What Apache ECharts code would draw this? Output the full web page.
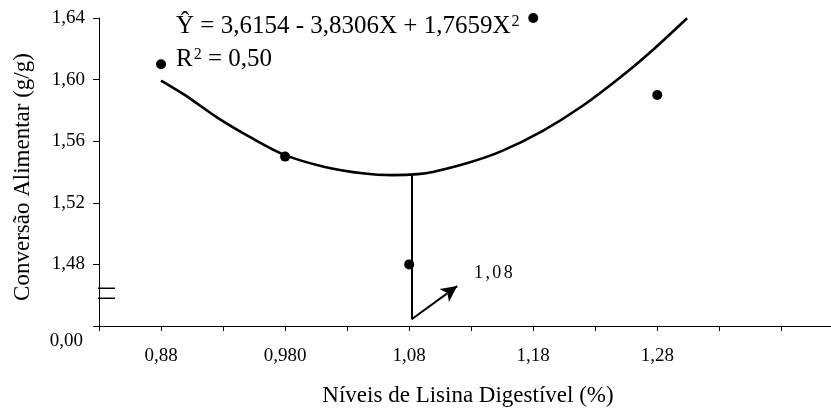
<!DOCTYPE html>
<html>
<head>
<meta charset="utf-8">
<script src="https://cdn.jsdelivr.net/npm/echarts@6/dist/echarts.min.js"></script>
<style>
html,body{margin:0;padding:0;background:#fff;}
#chart{width:831px;height:411px;}
</style>
</head>
<body>
<div id="chart"></div>
<script>
// Observed data points
const obsX = [0.88, 0.98, 1.08, 1.18, 1.28];
const obsY = [1.61, 1.55, 1.48, 1.64, 1.59];

// Fitted curve
const fitX = [0.880, 0.899, 0.926, 0.953, 0.979, 1.012, 1.044, 1.066, 1.087, 1.100, 1.127, 1.154, 1.187, 1.219, 1.251, 1.278, 1.304];
const fitY = [1.5994, 1.5901, 1.5750, 1.5621, 1.5513, 1.5433, 1.5390, 1.5380, 1.5386, 1.5402, 1.5458, 1.5534, 1.5664, 1.5825, 1.6020, 1.6204, 1.6398];

// Axis ticks and labels
const xTickValues = [0.83, 0.88, 0.93, 0.98, 1.03, 1.08, 1.13, 1.18, 1.23, 1.28, 1.33, 1.38];
const xLabelValues = [0.88, 0.98, 1.08, 1.18, 1.28];
const xLabels = ['0,88', '0,980', '1,08', '1,18', '1,28'];
const yTickValues = [1.44, 1.48, 1.52, 1.56, 1.60, 1.64];
const yLabels = ['0,00', '1,48', '1,52', '1,56', '1,60', '1,64'];

// Optimum annotation
const optX = 1.082;
const optY = 1.5384;
const optBaseY = 1.4444;
const arrowTip = [1.1187, 1.4659];
const optLabel = '1,08';

// Axis break marks (y values)
const breakY = [1.4645, 1.4580];
const breakX = [0.8245, 0.8429];

const FONT = '"Liberation Serif", "Times New Roman", serif';

function nearestIdx(arr, v) {
  let best = 0, bd = Infinity;
  arr.forEach((a, i) => { const d = Math.abs(a - v); if (d < bd) { bd = d; best = i; } });
  return best;
}

const chart = echarts.init(document.getElementById('chart'), null, {renderer: 'canvas'});

const option = {
  animation: false,
  backgroundColor: '#fff',
  grid: {left: 99, right: 0, top: 18, bottom: 85},
  xAxis: {
    type: 'value',
    min: 0.83,
    max: 1.42,
    splitLine: {show: false},
    axisLine: {show: true, lineStyle: {color: '#000', width: 1}},
    axisTick: {show: true, length: 5, lineStyle: {color: '#000', width: 1}, customValues: xTickValues},
    axisLabel: {
      customValues: xLabelValues,
      margin: 21,
      fontFamily: FONT, fontSize: 19, color: '#000',
      formatter: v => xLabels[nearestIdx(xLabelValues, v)]
    }
  },
  yAxis: {
    type: 'value',
    min: 1.44,
    max: 1.64,
    splitLine: {show: false},
    axisLine: {show: true, lineStyle: {color: '#000', width: 1}},
    axisTick: {show: true, length: 6, lineStyle: {color: '#000', width: 1}, customValues: yTickValues},
    axisLabel: {
      customValues: yTickValues,
      margin: 14,
      fontFamily: FONT, fontSize: 19, color: '#000',
      formatter: v => {
        const i = nearestIdx(yTickValues, v);
        return i === 0 ? '{z|' + yLabels[i] + '}' : yLabels[i];
      },
      rich: {z: {fontFamily: FONT, fontSize: 19, color: '#000', padding: [30, 2, 0, 0]}}
    }
  },
  series: [
    {
      type: 'line',
      data: fitX.map((x, i) => [x, fitY[i]]),
      smooth: 0.3,
      symbol: 'none',
      lineStyle: {color: '#000', width: 2.6},
      silent: true,
      markLine: {
        silent: true,
        animation: false,
        symbol: ['none', 'arrow'],
        symbolSize: [12, 16],
        label: {show: false},
        lineStyle: {color: '#000', width: 2, type: 'solid'},
        emphasis: {disabled: true},
        data: [
          [{coord: [optX, optY], symbol: 'none'}, {coord: [optX, optBaseY], symbol: 'none'}],
          [{coord: [optX, optBaseY], symbol: 'none'}, {coord: arrowTip, symbol: 'arrow'}]
        ]
      }
    },
    {
      type: 'scatter',
      data: obsX.map((x, i) => [x, obsY[i]]),
      symbolSize: 10,
      itemStyle: {color: '#000', opacity: 1},
      silent: true
    },
    {
      type: 'line',
      data: [[breakX[0], breakY[0]], [breakX[1], breakY[0]]],
      clip: false, symbol: 'none', silent: true,
      lineStyle: {color: '#000', width: 1.5}
    },
    {
      type: 'line',
      data: [[breakX[0], breakY[1]], [breakX[1], breakY[1]]],
      clip: false, symbol: 'none', silent: true,
      lineStyle: {color: '#000', width: 1.5}
    }
  ],
  graphic: [
    {
      type: 'text', left: 176, top: 14, silent: true,
      style: {
        text: '{n|Ŷ = 3,6154 - 3,8306X + 1,7659X}{s|2}',
        rich: {
          n: {fontFamily: FONT, fontSize: 25, color: '#000'},
          s: {fontFamily: FONT, fontSize: 16, color: '#000', verticalAlign: 'top', padding: [0, 0, 0, 1]}
        }
      }
    },
    {
      type: 'text', left: 176, top: 47, silent: true,
      style: {
        text: '{n|R}{s|2}{n| = 0,50}',
        rich: {
          n: {fontFamily: FONT, fontSize: 25, color: '#000'},
          s: {fontFamily: FONT, fontSize: 16, color: '#000', verticalAlign: 'top', padding: [0, 0, 0, 1]}
        }
      }
    },
    {
      type: 'text', left: 474, top: 264, silent: true,
      style: {
        text: optLabel.split('').map(c => '{c|' + c + '}').join(''),
        rich: {c: {fontFamily: FONT, fontSize: 18, color: '#000', padding: [0, 1.2, 0, 1.2]}}
      }
    },
    {
      type: 'text', x: 23, y: 177, rotation: Math.PI / 2, silent: true,
      style: {
        text: 'Conversão Alimentar (g/g)',
        fontFamily: FONT, fontSize: 23, fill: '#000',
        align: 'center', verticalAlign: 'middle'
      }
    },
    {
      type: 'text', x: 468, y: 396, silent: true,
      style: {
        text: 'Níveis de Lisina Digestível (%)',
        fontFamily: FONT, fontSize: 23, fill: '#000',
        align: 'center', verticalAlign: 'middle'
      }
    }
  ]
};

chart.setOption(option);
</script>
</body>
</html>
